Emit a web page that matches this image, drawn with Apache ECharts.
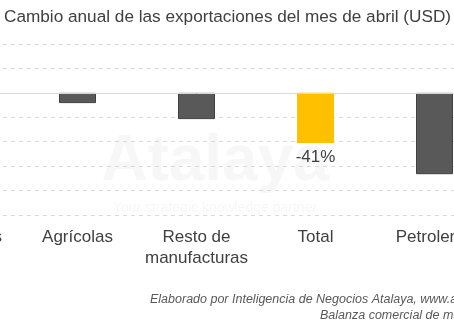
<!DOCTYPE html>
<html>
<head>
<meta charset="utf-8">
<script src="https://cdn.jsdelivr.net/npm/echarts@6/dist/echarts.min.js"></script>
<style>
html,body{margin:0;padding:0;width:454px;height:333px;overflow:hidden;background:#fff;position:relative;}
#c{position:absolute;left:-120px;top:0;width:634px;height:333px;}
</style>
</head>
<body>
<div id="c"></div>
<script>
// Data
const categories = ['Industriales', 'Agrícolas', 'Resto de\nmanufacturas', 'Total', 'Petroleras'];
const values = [null, -8.4, -21.5, -41, -66.6];
const highlight = 'Total';
const yTicks = { min: -100, max: 40, interval: 20 };
const titleText = 'Cambio anual de las exportaciones del mes de abril (USD)';
const footer1 = 'Elaborado por Inteligencia de Negocios Atalaya, www.atalaya.co';
const footer2 = 'Balanza comercial de mayo';

const OX = 120;
const FONT = "'Liberation Sans', Arial, sans-serif";
const chart = echarts.init(document.getElementById('c'), null, { renderer: 'canvas' });

chart.setOption({
  animation: false,
  backgroundColor: '#fff',
  grid: { left: 19, right: 20, top: 44, bottom: 118 },
  graphic: [
    { type: 'text', left: OX + 4, top: 9, style: { text: titleText, font: '17.2px ' + FONT, fill: '#404040' } },
    { type: 'text', x: OX + 215, y: 162, style: { text: 'Atalaya', font: 'bold 64px ' + FONT, fill: '#f7f7f7', align: 'center', verticalAlign: 'middle' }, z: -1 },
    { type: 'text', x: OX + 215, y: 208, style: { text: 'Your strategic knowledge partner', font: '14px ' + FONT, fill: '#f7f7f7', align: 'center', verticalAlign: 'middle' }, z: -1 },
    { type: 'text', x: OX + 150, y: 300, style: { text: footer1, font: 'italic 12.5px ' + FONT, fill: '#595959', verticalAlign: 'middle' } },
    { type: 'text', x: OX + 320, y: 316, style: { text: footer2, font: 'italic 12.5px ' + FONT, fill: '#595959', verticalAlign: 'middle' } }
  ],
  xAxis: {
    type: 'category',
    data: categories,
    position: 'bottom',
    axisLine: { show: false, onZero: false },
    axisTick: { show: false },
    axisLabel: { color: '#404040', fontFamily: FONT, fontSize: 17, lineHeight: 21, margin: 12, interval: 0 }
  },
  yAxis: {
    type: 'value',
    min: yTicks.min, max: yTicks.max, interval: yTicks.interval,
    axisLabel: { show: false },
    axisLine: { show: false },
    axisTick: { show: false },
    splitLine: { lineStyle: { color: '#d9d9d9', type: [4, 4], width: 1 } }
  },
  series: [{
    type: 'bar',
    barWidth: 37,
    data: values.map((v, i) => ({
      value: v,
      itemStyle: categories[i] === highlight
        ? { color: '#FFC000', borderColor: '#FFC000', borderWidth: 0 }
        : { color: '#595959', borderColor: '#404040', borderWidth: 1 },
      label: categories[i] === highlight
        ? { show: true, position: 'bottom', distance: 6, formatter: (p) => p.value + '%', color: '#404040', fontSize: 17, fontFamily: FONT }
        : { show: false }
    })),
    markLine: {
      silent: true,
      symbol: 'none',
      label: { show: false },
      lineStyle: { color: '#d9d9d9', type: 'solid', width: 1 },
      data: [{ yAxis: 0 }]
    },
    z: 3
  }]
});
</script>
</body>
</html>
